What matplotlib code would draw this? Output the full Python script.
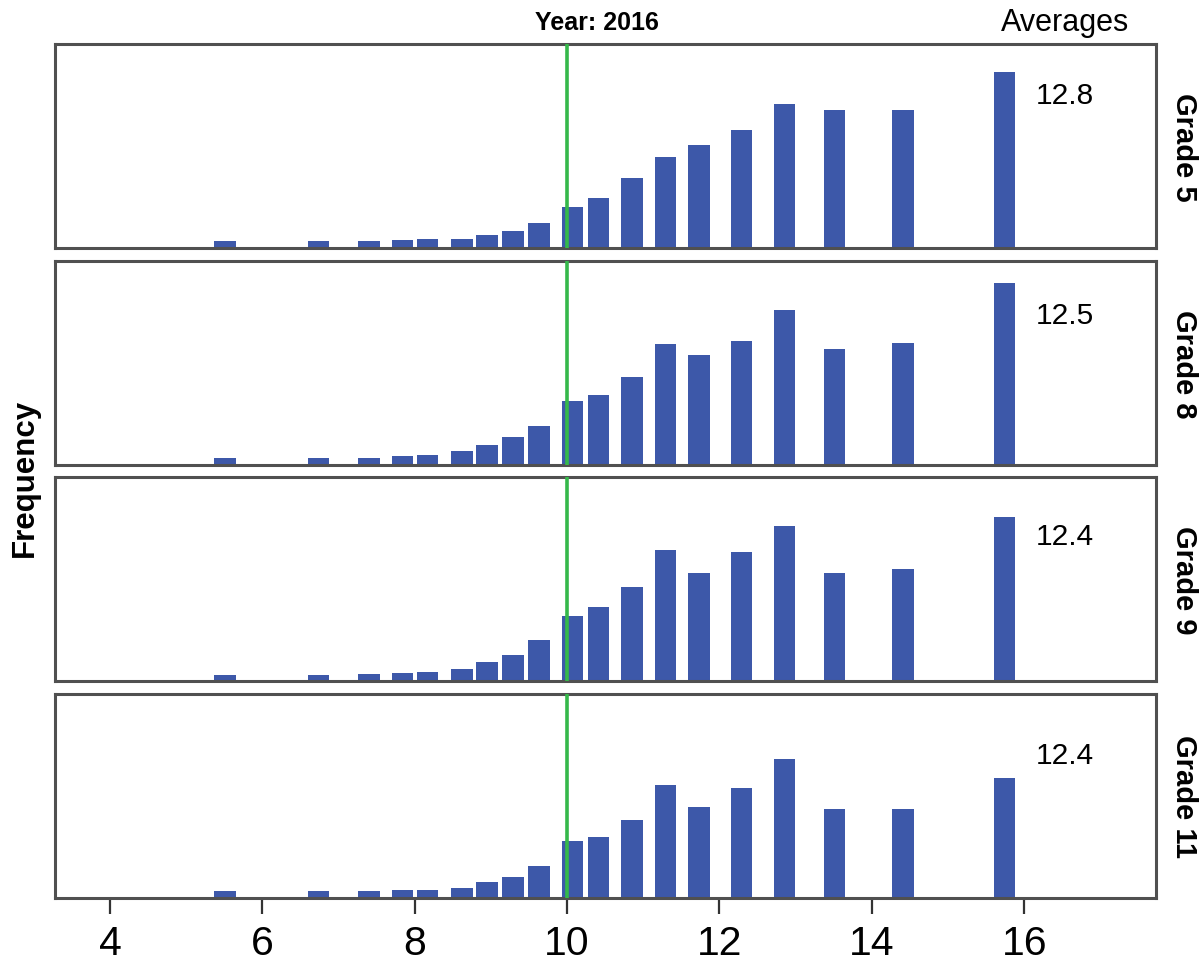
import numpy as np
import matplotlib
matplotlib.use("Agg")
import matplotlib.pyplot as plt

plt.rcParams['font.family'] = ['Liberation Sans', 'DejaVu Sans']

# Bin centres (shared by every grade) and bar heights per grade
centres = [5.51, 6.74, 7.40, 7.84, 8.17, 8.62, 8.95, 9.29, 9.63, 10.07,
           10.41, 10.85, 11.29, 11.73, 12.29, 12.85, 13.51, 14.41, 15.74]

grades = ["Grade 5", "Grade 8", "Grade 9", "Grade 11"]
averages = ["12.8", "12.5", "12.4", "12.4"]

freq_g5 = [0.7, 0.7, 0.7, 0.8, 0.9, 0.9, 1.3, 1.7, 2.5, 4.1,
           5.0, 7.0, 9.1, 10.3, 11.8, 14.4, 13.8, 13.8, 17.6]
freq_g8 = [0.7, 0.7, 0.7, 0.9, 1.0, 1.4, 2.0, 2.8, 3.9, 6.4,
           7.0, 8.8, 12.1, 11.0, 12.4, 15.5, 11.6, 12.2, 18.2]
freq_g9 = [0.6, 0.6, 0.7, 0.8, 0.9, 1.2, 1.9, 2.6, 4.1, 6.5,
           7.4, 9.4, 13.1, 10.8, 12.9, 15.5, 10.8, 11.2, 16.4]
freq_g11 = [0.7, 0.7, 0.7, 0.8, 0.8, 1.0, 1.6, 2.1, 3.2, 5.7,
            6.1, 7.8, 11.3, 9.1, 11.0, 13.9, 8.9, 8.9, 12.0]
freqs = [freq_g5, freq_g8, freq_g9, freq_g11]

year_line = 10
xticks = [4, 6, 8, 10, 12, 14, 16]

bar_col = "#3D58A9"
line_col = "#35B84A"
edge_col = "#505050"

fig = plt.figure(figsize=(12.01, 9.62), dpi=100)

# panel geometry in pixels
left, right = 55 / 1201, 1156 / 1201
tops = [45, 262, 478, 695]
h = 204
label_y = [0.75, 0.735, 0.71, 0.70]

axes = []
for i, top in enumerate(tops):
    ax = fig.add_axes([left, 1 - (top + h) / 962, right - left, h / 962])
    ax.bar(centres, freqs[i], width=0.28, color=bar_col, zorder=2)
    ax.axvline(year_line, color=line_col, lw=2.6, zorder=3)
    ax.set_xlim(3.278, 17.73)
    ax.set_ylim(0, 20.4)
    ax.set_yticks([])
    for s in ax.spines.values():
        s.set_color(edge_col)
        s.set_linewidth(2.2)
    ax.text(0.891, label_y[i], averages[i], transform=ax.transAxes,
            fontsize=21.5, ha="left", va="center")
    ax.text(1.025, 0.5, grades[i], transform=ax.transAxes, rotation=-90,
            fontsize=21, fontweight="bold", ha="center", va="center")
    if i < 3:
        ax.set_xticks([])
    else:
        ax.set_xticks(xticks)
        ax.tick_params(axis="x", length=11.5, width=1.6, color="#333333",
                       labelsize=29.5, pad=7.5)
    axes.append(ax)

fig.text(597 / 1201, 1 - 23 / 962, "Year: 2016", fontsize=18,
         fontweight="bold", ha="center", va="center")
fig.text(1065 / 1201, 1 - 23 / 962, "Averages", fontsize=22,
         ha="center", va="center")
fig.text(25 / 1201, 1 - 478 / 962, "Frequency", fontsize=22.5,
         fontweight="bold", rotation=90, ha="center", va="center")

fig.savefig("out.png", dpi=100)
